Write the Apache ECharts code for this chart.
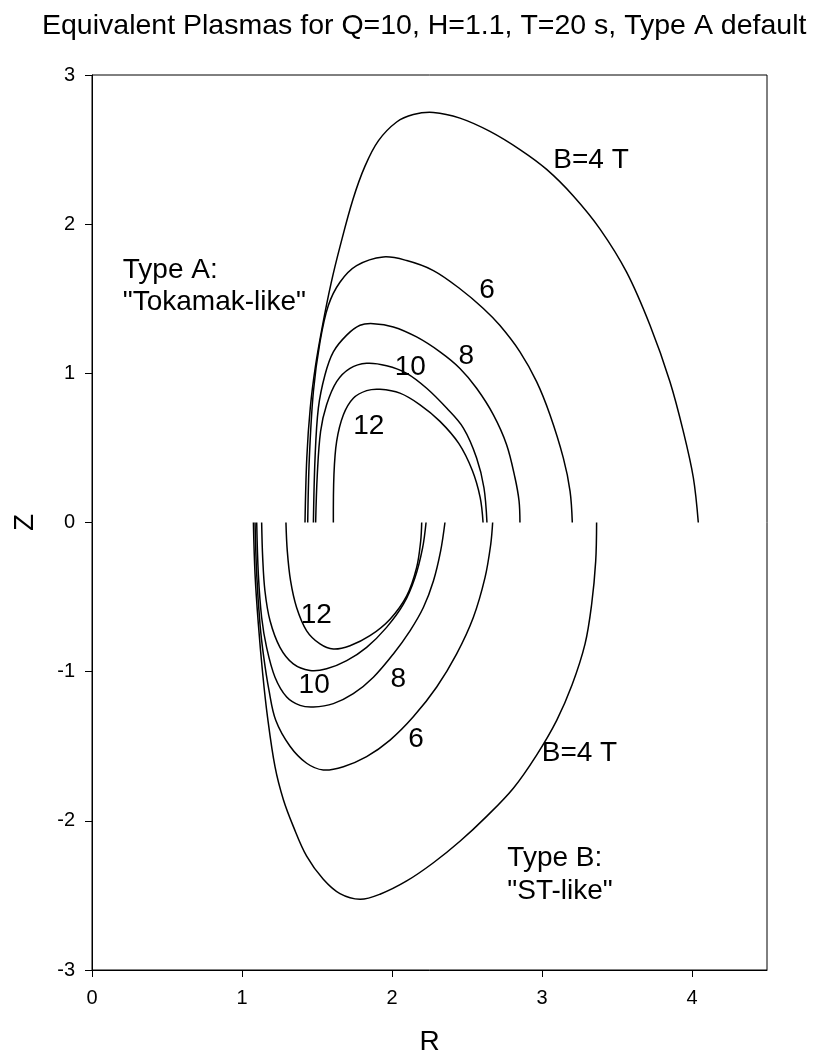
<!DOCTYPE html>
<html>
<head>
<meta charset="utf-8">
<script src="https://cdn.jsdelivr.net/npm/echarts@6/dist/echarts.min.js"></script>
<style>
html,body{margin:0;padding:0;background:#fff;}
#c{width:817px;height:1061px;}
</style>
</head>
<body>
<div id="c"></div>
<script>
// ---- Data (R, Z) ----
const xTicks = [0, 1, 2, 3, 4];
const yTicks = [-3, -2, -1, 0, 1, 2, 3];

// Type A ("Tokamak-like"), upper half
const typeA_B4 = [[1.42,0],[1.432,0.433],[1.455,0.767],[1.49,1.05],[1.537,1.322],[1.593,1.6],[1.655,1.856],[1.74,2.167],[1.82,2.389],[1.91,2.56],[2.031,2.685],[2.142,2.735],[2.276,2.749],[2.453,2.711],[2.653,2.622],[2.853,2.5],[3.031,2.367],[3.209,2.189],[3.387,1.967],[3.564,1.678],[3.72,1.322],[3.853,0.944],[3.942,0.611],[4.009,0.3],[4.042,0]];
const typeA_B6 = [[1.438,0],[1.449,0.433],[1.476,0.878],[1.52,1.211],[1.576,1.456],[1.653,1.611],[1.764,1.722],[1.942,1.78],[2.098,1.756],[2.276,1.689],[2.453,1.567],[2.609,1.435],[2.72,1.32],[2.853,1.144],[2.964,0.944],[3.053,0.722],[3.142,0.433],[3.187,0.211],[3.202,0]];
const typeA_B8 = [[1.476,0],[1.487,0.433],[1.509,0.767],[1.553,0.989],[1.609,1.144],[1.698,1.256],[1.787,1.322],[1.876,1.333],[2.009,1.311],[2.164,1.244],[2.32,1.144],[2.453,1.033],[2.564,0.9],[2.676,0.722],[2.764,0.522],[2.82,0.3],[2.847,0.144],[2.853,0]];
const typeA_B10 = [[1.491,0],[1.502,0.322],[1.524,0.611],[1.564,0.789],[1.631,0.944],[1.72,1.033],[1.831,1.067],[1.964,1.051],[2.098,1.0],[2.231,0.9],[2.364,0.767],[2.476,0.633],[2.564,0.433],[2.613,0.233],[2.633,0]];
const typeA_B12 = [[1.609,0],[1.613,0.322],[1.631,0.544],[1.676,0.722],[1.742,0.833],[1.831,0.884],[1.92,0.893],[2.053,0.867],[2.187,0.789],[2.32,0.678],[2.445,0.53],[2.535,0.35],[2.588,0.167],[2.607,0]];

// Type B ("ST-like"), lower half
const typeB_B4 = [[1.076,0],[1.087,-0.348],[1.109,-0.681],[1.138,-1.014],[1.17,-1.303],[1.22,-1.637],[1.276,-1.859],[1.342,-2.037],[1.431,-2.237],[1.542,-2.392],[1.653,-2.488],[1.787,-2.526],[1.92,-2.492],[2.098,-2.403],[2.276,-2.281],[2.453,-2.137],[2.631,-1.97],[2.809,-1.781],[2.964,-1.559],[3.098,-1.326],[3.2,-1.09],[3.287,-0.814],[3.331,-0.548],[3.358,-0.259],[3.364,0]];
const typeB_B6 = [[1.087,0],[1.098,-0.348],[1.12,-0.681],[1.145,-0.903],[1.18,-1.126],[1.225,-1.326],[1.32,-1.5],[1.431,-1.614],[1.542,-1.659],[1.676,-1.637],[1.831,-1.57],[1.987,-1.459],[2.142,-1.303],[2.298,-1.103],[2.431,-0.881],[2.542,-0.637],[2.62,-0.37],[2.658,-0.148],[2.671,0]];
const typeB_B8 = [[1.098,0],[1.109,-0.348],[1.131,-0.637],[1.164,-0.837],[1.22,-1.037],[1.298,-1.17],[1.387,-1.226],[1.476,-1.237],[1.609,-1.214],[1.742,-1.148],[1.876,-1.037],[2.009,-0.881],[2.12,-0.726],[2.209,-0.57],[2.276,-0.392],[2.324,-0.192],[2.353,0]];
const typeB_B10 = [[1.131,0],[1.138,-0.237],[1.153,-0.459],[1.187,-0.659],[1.253,-0.837],[1.342,-0.948],[1.453,-0.992],[1.564,-0.981],[1.698,-0.926],[1.831,-0.837],[1.964,-0.703],[2.076,-0.548],[2.153,-0.37],[2.204,-0.17],[2.227,0]];
const typeB_B12 = [[1.293,0],[1.302,-0.192],[1.324,-0.392],[1.364,-0.57],[1.431,-0.726],[1.52,-0.814],[1.609,-0.848],[1.72,-0.826],[1.853,-0.759],[1.987,-0.648],[2.098,-0.492],[2.164,-0.303],[2.191,-0.126],[2.198,0]];

// Annotation texts and their anchor (R, Z)
const annTexts = ['B=4 T','6','8','10','12','Type A:','"Tokamak-like"','12','10','8','6','B=4 T','Type B:','"ST-like"'];
const annR = [3.075,2.633,2.495,2.122,1.845,0.205,0.205,1.495,1.481,2.042,2.161,2.998,2.769,2.769];
const annZ = [2.43,1.56,1.115,1.041,0.645,1.69,1.477,-0.625,-1.092,-1.053,-1.455,-1.548,-2.253,-2.47];
const annLeft = [true,false,false,false,false,true,true,false,false,false,false,true,true,true];

const curves = [typeA_B4,typeA_B6,typeA_B8,typeA_B10,typeA_B12,typeB_B4,typeB_B6,typeB_B8,typeB_B10,typeB_B12];

const FONT = '"Liberation Sans", Arial, sans-serif';
const chart = echarts.init(document.getElementById('c'), null, {renderer:'canvas'});

// One custom series: each item is one curve, converted point by point via the axes' scales
const curveSeries = {
  type: 'custom', silent: true, animation: false,
  encode: {x: 0, y: 1},
  data: curves.map(c => c[0]),
  renderItem: function (params, api) {
    const pts = curves[params.dataIndex].map(p => api.coord(p));
    return {type: 'polyline', shape: {points: pts, smooth: 0.35},
      style: {stroke: '#000', lineWidth: 1.5, fill: null}};
  }
};

chart.setOption({
  backgroundColor: '#fff',
  animation: false,
  title: {text: 'Equivalent Plasmas for Q=10, H=1.1, T=20 s, Type A default', left: 37, top: 7,
    textStyle: {fontSize: 28.5, fontWeight: 'normal', color: '#000', fontFamily: FONT}},
  grid: {left: 92, right: 50, top: 75, bottom: 86, show: true, borderColor: '#000', borderWidth: 1, backgroundColor: 'transparent'},
  xAxis: {type: 'value', min: 0, max: 4.5, interval: 1,
    name: 'R', nameLocation: 'middle', nameGap: 58,
    nameTextStyle: {fontSize: 28, color: '#000', fontFamily: FONT},
    axisLine: {show: true, onZero: false, lineStyle: {color: '#000', width: 1}},
    axisTick: {show: true, inside: false, length: 7, lineStyle: {color: '#000'}, customValues: xTicks},
    axisLabel: {show: true, margin: 18, fontSize: 20, color: '#000', fontFamily: FONT, customValues: xTicks},
    splitLine: {show: false}},
  yAxis: {type: 'value', min: -3, max: 3, interval: 1,
    name: 'Z', nameLocation: 'middle', nameGap: 53, nameRotate: 90,
    nameTextStyle: {fontSize: 28, color: '#000', fontFamily: FONT},
    axisLine: {show: true, onZero: false, lineStyle: {color: '#000', width: 1}},
    axisTick: {show: true, inside: false, length: 7, lineStyle: {color: '#000'}, customValues: yTicks},
    axisLabel: {show: true, margin: 17, fontSize: 20, color: '#000', fontFamily: FONT, customValues: yTicks},
    splitLine: {show: false}},
  series: [curveSeries]
});

// Annotations placed through the chart's own coordinate conversion
const texts = annTexts.map((t, i) => {
  const p = chart.convertToPixel({gridIndex: 0}, [annR[i], annZ[i]]);
  return {type: 'text', x: p[0], y: p[1], silent: true,
    style: {text: t, fill: '#000', fontSize: 28, fontFamily: FONT,
      align: annLeft[i] ? 'left' : 'center', verticalAlign: 'middle'}};
});
chart.setOption({graphic: {elements: texts}});
</script>
</body>
</html>
